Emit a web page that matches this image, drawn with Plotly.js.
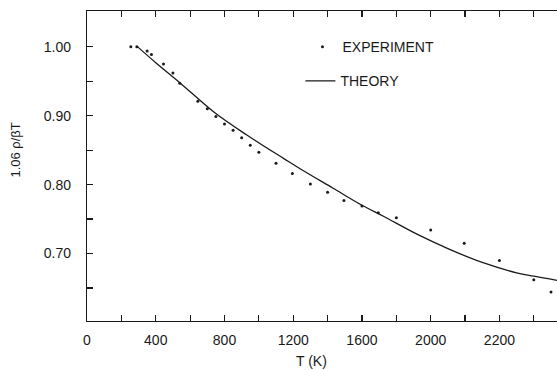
<!DOCTYPE html>
<html>
<head>
<meta charset="utf-8">
<script src="https://cdn.plot.ly/plotly-3.0.1.min.js"></script>
<style>html,body{margin:0;padding:0;background:#fff;}#chart{width:557px;height:370px;}</style>
</head>
<body>
<div id="chart"></div>
<script>
// Experimental points (T in K, 1.06 rho / beta T)
var expT = [255, 290, 350, 375, 445, 500, 540, 645, 700, 750, 800, 850, 900, 950, 1000, 1100, 1195, 1300, 1400, 1495, 1600, 1695, 1800, 2000, 2195, 2400, 2600, 2700];
var expY = [1.000, 1.000, 0.994, 0.989, 0.975, 0.962, 0.947, 0.921, 0.910, 0.899, 0.888, 0.879, 0.868, 0.857, 0.847, 0.831, 0.816, 0.801, 0.789, 0.777, 0.769, 0.759, 0.752, 0.734, 0.715, 0.690, 0.662, 0.644];
// Theory curve
var thT = [290, 400, 540, 740, 930, 1150, 1240, 1430, 1600, 1725, 1920, 2110, 2300, 2500, 2600, 2735];
var thY = [1.001, 0.977, 0.948, 0.905, 0.872, 0.837, 0.823, 0.795, 0.770, 0.754, 0.728, 0.706, 0.687, 0.672, 0.667, 0.661];
// Axis ticks
var xTickVals = [0, 200, 400, 600, 800, 1000, 1200, 1400, 1600, 1800, 2000, 2200, 2400, 2600];
var xTickText = ['0', '', '400', '', '800', '', '1200', '', '1600', '', '2000', '', '2200', ''];
var yTickVals = [0.65, 0.70, 0.75, 0.80, 0.85, 0.90, 0.95, 1.00];
var yTickText = ['', '0.70', '', '0.80', '', '0.90', '', '1.00'];

var FONT = 'Liberation Sans, Arial, sans-serif';
var INK = '#1a1a1a';

var traces = [
  {x: expT, y: expY, mode: 'markers', type: 'scatter', name: 'EXPERIMENT',
   marker: {color: INK, size: 3}, legend: 'legend'},
  {x: thT, y: thY, mode: 'lines', type: 'scatter', name: 'THEORY',
   line: {color: INK, width: 1.3, shape: 'spline', smoothing: 1}, legend: 'legend2'}
];

var axisCommon = {
  showgrid: false, zeroline: false, showline: true, linecolor: INK, linewidth: 1.2,
  ticks: 'inside', tickcolor: INK, tickwidth: 1.2, ticklen: 6,
  tickfont: {family: FONT, size: 14, color: INK}
};

var layout = {
  width: 557, height: 370,
  margin: {l: 87, r: 0, t: 11, b: 49, pad: 0},
  paper_bgcolor: '#fff', plot_bgcolor: '#fff',
  showlegend: true,
  font: {family: FONT, color: INK},
  xaxis: Object.assign({}, axisCommon, {
    range: [0, 2735], tickmode: 'array', tickvals: xTickVals, ticktext: xTickText,
    mirror: 'ticks', ticklabelstandoff: 6
  }),
  yaxis: Object.assign({}, axisCommon, {
    range: [0.602, 1.052], tickmode: 'array', tickvals: yTickVals, ticktext: yTickText,
    mirror: false, ticklabelstandoff: 12
  }),
  legend: {x: 0.4585, y: 0.883, xanchor: 'left', yanchor: 'middle', bgcolor: 'rgba(0,0,0,0)',
    font: {family: FONT, size: 14, color: INK}},
  legend2: {x: 0.454, y: 0.773, xanchor: 'left', yanchor: 'middle', bgcolor: 'rgba(0,0,0,0)',
    font: {family: FONT, size: 14, color: INK}},
  annotations: [
    {text: '1.06 ρ/βT', xref: 'paper', yref: 'paper', x: -0.153, y: 0.55,
     xanchor: 'center', yanchor: 'middle', textangle: -90, showarrow: false,
     font: {family: FONT, size: 13, color: INK}},
    {text: 'T (K)', xref: 'paper', yref: 'paper', x: 0.478, y: -0.128,
     xanchor: 'center', yanchor: 'middle', showarrow: false,
     font: {family: FONT, size: 14, color: INK}}
  ]
};

Plotly.newPlot('chart', traces, layout, {displayModeBar: false, staticPlot: true});
</script>
</body>
</html>
